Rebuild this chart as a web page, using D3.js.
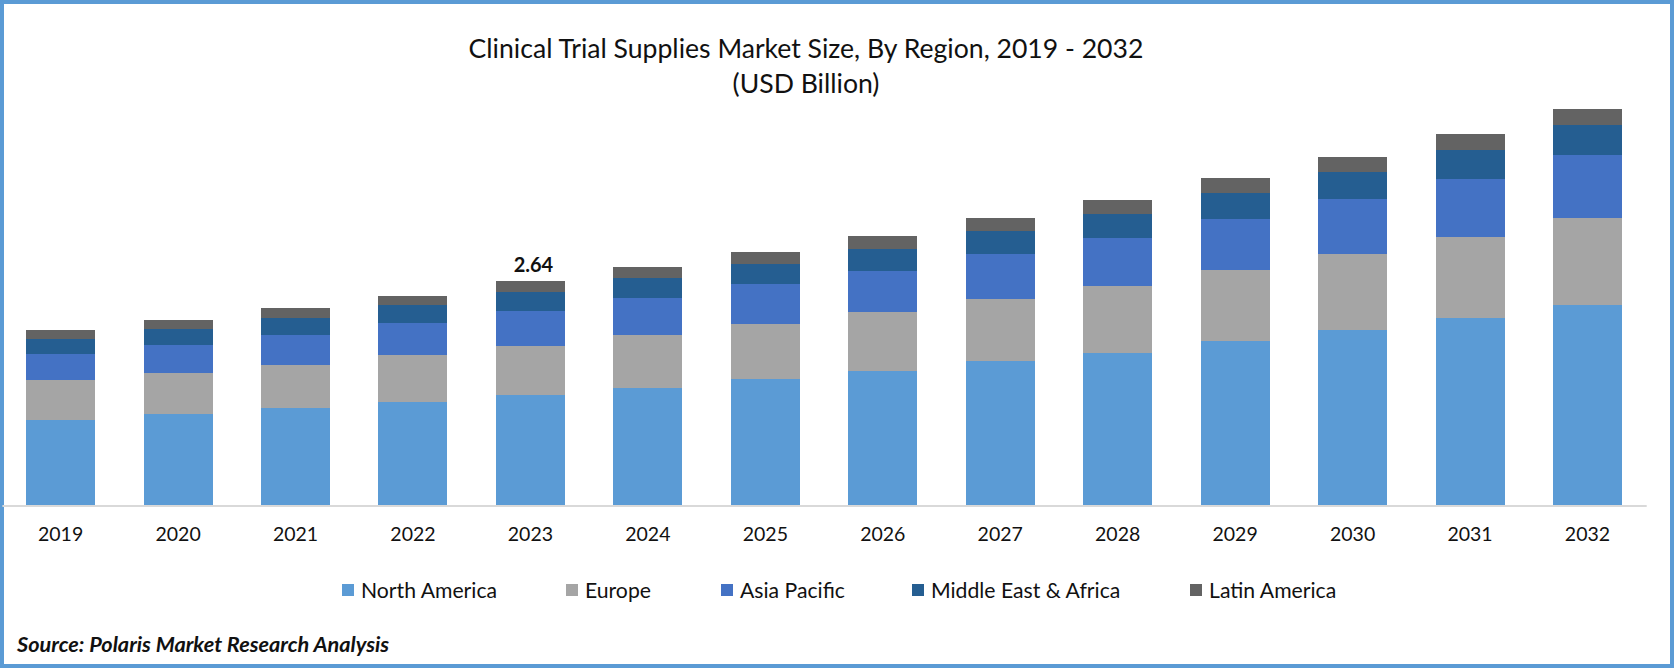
<!DOCTYPE html>
<html>
<head>
<meta charset="utf-8">
<script src="https://cdn.jsdelivr.net/npm/d3@7"></script>
<style>
html, body { margin: 0; padding: 0; background: #fff; }
svg { display: block; }
text { font-family: Lato, "Open Sans", sans-serif; fill: #111; }
</style>
</head>
<body>
<div id="chart-area"></div>
<script>
const years = ["2019","2020","2021","2022","2023","2024","2025","2026","2027","2028","2029","2030","2031","2032"];
const regions = ["North America","Europe","Asia Pacific","Middle East & Africa","Latin America"];
const northAmerica = [1.006,1.077,1.148,1.219,1.302,1.385,1.480,1.575,1.693,1.799,1.930,2.060,2.202,2.356];
const europe = [0.462,0.485,0.509,0.545,0.580,0.616,0.651,0.698,0.734,0.793,0.841,0.900,0.959,1.030];
const asiaPacific = [0.308,0.331,0.355,0.379,0.403,0.438,0.474,0.497,0.533,0.568,0.604,0.651,0.698,0.746];
const middleEastAfrica = [0.189,0.189,0.201,0.213,0.225,0.237,0.237,0.260,0.272,0.284,0.308,0.320,0.343,0.355];
const latinAmerica = [0.095,0.107,0.118,0.118,0.130,0.130,0.142,0.154,0.154,0.166,0.178,0.178,0.189,0.201];
const colors = ["#5b9bd5","#a5a5a5","#4472c4","#255e91","#636363"];
const labelYear = "2023";
const labelText = "2.64";

const width = 1674, height = 668;

const table = years.map((year, i) => ({
  year: year,
  "North America": northAmerica[i],
  "Europe": europe[i],
  "Asia Pacific": asiaPacific[i],
  "Middle East & Africa": middleEastAfrica[i],
  "Latin America": latinAmerica[i]
}));

const svg = d3.select("#chart-area")
  .append("svg")
  .attr("width", width)
  .attr("height", height);

// outer border
svg.append("rect")
  .attr("x", 2)
  .attr("y", 2)
  .attr("width", width - 4)
  .attr("height", height - 4)
  .attr("fill", "#fff")
  .attr("stroke", "#5b9bd5")
  .attr("stroke-width", 4);

const x = d3.scaleBand()
  .domain(years)
  .range([1.9, 1646.2])
  .paddingInner(0.4125)
  .paddingOuter(0.20625);

const y = d3.scaleLinear()
  .domain([0, 5])
  .range([504.5, 82.15]);

const color = d3.scaleOrdinal().domain(regions).range(colors);

const series = d3.stack().keys(regions)(table);

svg.selectAll("g.layer")
  .data(series)
  .enter().append("g")
  .attr("class", "layer")
  .attr("fill", d => color(d.key))
  .selectAll("rect")
  .data(d => d)
  .enter().append("rect")
  .attr("x", d => x(d.data.year))
  .attr("y", d => y(d[1]))
  .attr("width", x.bandwidth())
  .attr("height", d => y(d[0]) - y(d[1]))
  .attr("shape-rendering", "crispEdges");

// x axis
const axis = svg.append("g")
  .attr("transform", "translate(0,505.5)")
  .call(d3.axisBottom(x).tickSize(0).tickPadding(22));
axis.select(".domain").attr("stroke", "#d9d9d9").attr("stroke-width", 2);
axis.selectAll("text").attr("font-size", 19.5).style("font-family", "Lato");

// the single data label
const total2023 = d3.sum(regions, r => table[years.indexOf(labelYear)][r]);
svg.append("text")
  .attr("x", x(labelYear) + x.bandwidth() / 2 + 3)
  .attr("y", y(total2023) - 9)
  .attr("text-anchor", "middle")
  .attr("font-size", 20)
  .attr("font-weight", 700)
  .text(labelText);

// title
svg.append("text")
  .attr("x", 806)
  .attr("y", 58)
  .attr("text-anchor", "middle")
  .attr("font-size", 26.6)
  .text("Clinical Trial Supplies Market Size, By Region, 2019 - 2032");
svg.append("text")
  .attr("x", 806)
  .attr("y", 92.5)
  .attr("text-anchor", "middle")
  .attr("font-size", 26.6)
  .text("(USD Billion)");

// legend
const legendLeft = [342, 566, 721, 912, 1190];
const legend = svg.selectAll("g.legend")
  .data(regions)
  .enter().append("g")
  .attr("class", "legend")
  .attr("transform", (d, i) => `translate(${legendLeft[i]},584)`);
legend.append("rect")
  .attr("width", 12)
  .attr("height", 12)
  .attr("fill", d => color(d));
legend.append("text")
  .attr("x", 19)
  .attr("y", 14)
  .attr("font-size", 21.2)
  .text(d => d);

// source
svg.append("text")
  .attr("x", 17)
  .attr("y", 652)
  .attr("font-size", 21.7)
  .attr("font-weight", 700)
  .attr("font-style", "italic")
  .text("Source: Polaris Market Research Analysis");
</script>
</body>
</html>
